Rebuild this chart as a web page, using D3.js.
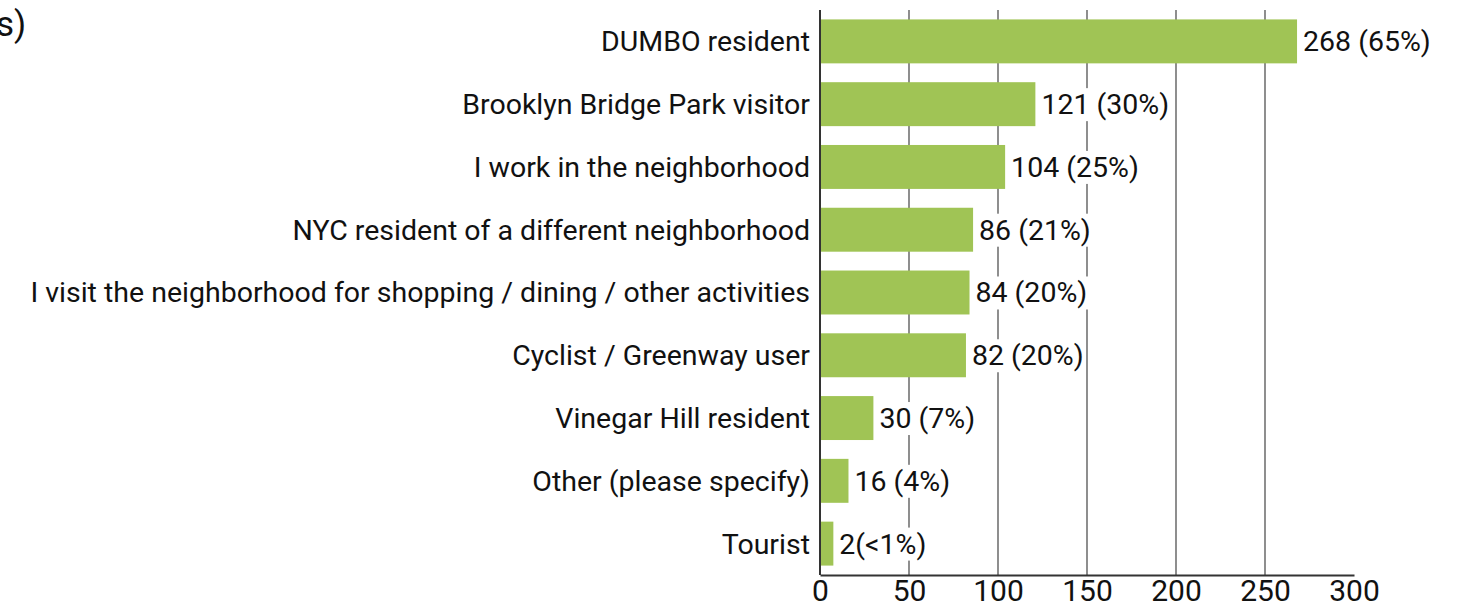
<!DOCTYPE html>
<html><head><meta charset="utf-8">
<script src="https://cdn.jsdelivr.net/npm/d3@7"></script>
<style>body{margin:0;background:#fff;} text{font-family:Roboto,"Noto Sans",sans-serif;}</style>
</head><body>
<svg id="c" width="1460" height="608"></svg>
<script>
const categories = ["DUMBO resident","Brooklyn Bridge Park visitor","I work in the neighborhood","NYC resident of a different neighborhood","I visit the neighborhood for shopping / dining / other activities","Cyclist / Greenway user","Vinegar Hill resident","Other (please specify)","Tourist"];
// bar lengths (the Tourist bar is drawn longer than its label)
const values = [268,121,104,86,84,82,30,16,7.5];
const valueLabels = ["268 (65%)","121 (30%)","104 (25%)","86 (21%)","84 (20%)","82 (20%)","30 (7%)","16 (4%)","2(<1%)"];
const tickValues = [0,50,100,150,200,250,300];

const svg = d3.select("#c");
const x = d3.scaleLinear().domain([0,300]).range([820,1354]);
const y = d3.scaleBand().domain(categories).range([10,575]).paddingInner(0.3).paddingOuter(0.15);
const data = categories.map((c,i)=>({c, v:values[i], l:valueLabels[i]}));

// partial title (cut off at the left edge, as in the reference)
svg.append("text").attr("x",-4).attr("y",36).attr("font-size",35).attr("fill","#111").text("s)");

// gridlines
svg.append("g").selectAll("line").data(tickValues.filter(t=>t>0&&t<300)).join("line")
  .attr("x1",d=>x(d)).attr("x2",d=>x(d)).attr("y1",10).attr("y2",575)
  .attr("stroke","#444").attr("stroke-width",1.2);

// bars
svg.append("g").selectAll("rect").data(data).join("rect")
  .attr("x",x(0)).attr("y",d=>y(d.c)).attr("width",d=>x(d.v)-x(0)).attr("height",y.bandwidth())
  .attr("fill","#a0c455");

// value labels with white backgrounds
const vl = svg.append("g").selectAll("g").data(data).join("g");
vl.append("text").attr("x",d=>x(d.v)+6).attr("y",d=>y(d.c)+y.bandwidth()/2).attr("dy","0.35em")
  .attr("font-size",28.5).attr("fill","#111").text(d=>d.l);
vl.each(function(){
  const t = d3.select(this).select("text");
  const b = t.node().getBBox();
  d3.select(this).insert("rect","text").attr("x",b.x-1).attr("y",b.y).attr("width",b.width+2).attr("height",b.height).attr("fill","#fff");
});

// category labels
svg.append("g").selectAll("text").data(data).join("text")
  .attr("x",810).attr("y",d=>y(d.c)+y.bandwidth()/2).attr("dy","0.35em")
  .attr("text-anchor","end").attr("font-size",28.5).attr("fill","#111").text(d=>d.c);

// axes lines
svg.append("line").attr("x1",x(0)).attr("x2",x(0)).attr("y1",10).attr("y2",575).attr("stroke","#333").attr("stroke-width",2);
const xAxis = d3.axisBottom(x).tickValues(tickValues).tickSize(0).tickPadding(5);
const ax = svg.append("g").attr("transform","translate(0,575)").call(xAxis);
ax.select(".domain").attr("stroke","#333").attr("stroke-width",2);
ax.selectAll("text").attr("font-size",30).attr("fill","#111").attr("font-family","Roboto");
</script>
</body></html>
